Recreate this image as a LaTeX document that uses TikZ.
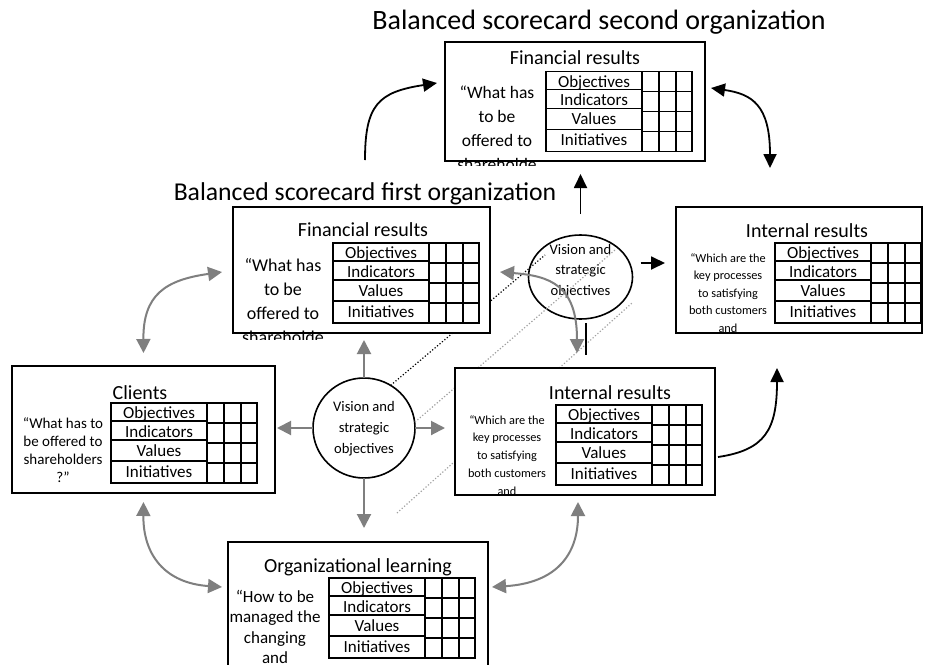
\documentclass[tikz,border=0pt]{standalone}
\usepackage{fontspec}
\setmainfont{Carlito}
\usetikzlibrary{arrows.meta,calc,shapes.geometric}
\definecolor{gar}{HTML}{7F7F7F}
\definecolor{gdot}{HTML}{A0A0A0}
\newcommand\scgrid[3]{%
 \begin{scope}[shift={(#2,#3)}]
  \draw[tbl] (0,0) rectangle (146,80);
  \draw[tbl] (96,0) -- (96,80) (113,0) -- (113,80) (130,0) -- (130,80);
  \draw[tbl] (96,20) -- (146,20) (96,40) -- (146,40) (96,60) -- (146,60);
  \draw[tbl] (0,18) -- (96,18) (0,37) -- (96,37) (0,58) -- (96,58);
  \node[lbl] (#1o) at (48,15.5) {Objectives};
  \node[lbl] (#1i) at (48,34) {Indicators};
  \node[lbl] (#1v) at (48,53) {Values};
  \node[lbl] (#1n) at (48,74) {Initiatives};
 \end{scope}}
\begin{document}
\begin{tikzpicture}[x=1pt,y=-1pt,
 box/.style={draw,line width=1.6pt,fill=white,inner sep=0,outer sep=0},
 tbl/.style={line width=1.6pt},
 lbl/.style={inner sep=0,anchor=base,font=\fontsize{17}{20}\selectfont},
 ttl/.style={inner sep=0,anchor=base,font=\fontsize{20}{24}\selectfont},
 txt/.style={inner sep=0,anchor=north,align=center},
 vis/.style={draw,line width=1.6pt,inner sep=0,outer sep=0},
 garrow/.style={draw=gar,line width=2pt,-{Triangle[length=14pt,width=14pt]}},
 gdarrow/.style={draw=gar,line width=2pt,{Triangle[length=14pt,width=14pt]}-{Triangle[length=14pt,width=14pt]}},
 barrow/.style={draw=black,line width=1.8pt,-{Triangle[length=14pt,width=13pt]}},
 bdarrow/.style={draw=black,line width=1.8pt,{Triangle[length=14pt,width=13pt]}-{Triangle[length=14pt,width=13pt]}},
 bdot/.style={draw=black,line width=1.2pt,dotted},
 gdotl/.style={draw=gdot,line width=1.2pt,dotted}
]
\useasboundingbox (0,0) rectangle (925,664);
\fill[white] (0,0) rectangle (925,664);

% titles
\node[inner sep=0,anchor=base,font=\fontsize{28}{30}\selectfont] (t2) at (599,29) {Balanced scorecard second organization};
\node[inner sep=0,anchor=base,font=\fontsize{25.7}{30}\selectfont] (t1) at (365,200) {Balanced scorecard first organization};

% vision circles
\node[vis,ellipse,minimum width=102pt,minimum height=100pt] (v1) at (364,428) {};
\node[inner sep=0,anchor=north,align=center,font=\fontsize{14.6}{21}\selectfont] (v1t) at (364,401) {Vision and\\strategic\\objectives};
\node[vis,ellipse,minimum width=104pt,minimum height=84pt] (v2) at (580.5,277) {};
\node[inner sep=0,anchor=north,align=center,font=\fontsize{14.6}{20.5}\selectfont] (v2t) at (580.5,244) {Vision and\\strategic\\objectives};

% dotted lines
\coordinate (g2s) at (397,513);
\draw[gdotl] ([yshift=6pt]v1.east) -- ([xshift=34.5pt,yshift=27pt]v2.center);
\draw[gdotl] (g2s) -- ([xshift=51.5pt,yshift=-26pt]v2.center);
\draw[bdot] (v1.58) -- ([xshift=-35.5pt,yshift=22pt]v2.center);

% second organization financial
\node[box,minimum width=260pt,minimum height=119pt] (f2) at (575,101.5) {};
\node[ttl] (f2h) at (575,64) {Financial results};
\scgrid{f2g}{546}{71.5}
\begin{scope}
\clip (445,42) rectangle (705,165.5);
\node[txt,font=\fontsize{17.5}{24}\selectfont] (f2t) at (497,85.5) {“What has\\to be\\offered to\\shareholde};
\end{scope}

% first organization financial
\node[box,minimum width=257pt,minimum height=126pt] (f1) at (361.5,270) {};
\node[ttl] (f1h) at (363,236) {Financial results};
\scgrid{f1g}{333}{243}
\begin{scope}
\clip (233,207) rectangle (490,339);
\node[txt,font=\fontsize{18}{24}\selectfont] (f1t) at (283,258.5) {“What has\\to be\\offered to\\shareholde};
\end{scope}

% internal results second
\node[box,minimum width=246pt,minimum height=126pt] (ir2) at (799,270) {};
\node[ttl] (ir2h) at (807,237) {Internal results};
\scgrid{ir2g}{775}{243}
\begin{scope}
\clip (676,207) rectangle (922,336);
\node[txt,font=\fontsize{12.3}{17.5}\selectfont] (ir2t) at (728,253) {“Which are the\\key processes\\to satisfying\\both customers\\and};
\end{scope}

% clients
\node[box,minimum width=263pt,minimum height=127pt] (cl) at (143.5,429.5) {};
\node[ttl] (clh) at (140,399) {Clients};
\scgrid{clg}{111}{403}
\node[txt,font=\fontsize{15}{18.3}\selectfont] (clt) at (63,417) {“What has to\\be offered to\\shareholders\\?”};

% internal results first
\node[box,minimum width=260pt,minimum height=127pt] (ir1) at (585,431.5) {};
\node[ttl] (ir1h) at (610,399) {Internal results};
\scgrid{ir1g}{556}{405}
\begin{scope}
\clip (455,368) rectangle (715,498);
\node[txt,font=\fontsize{12.3}{17.8}\selectfont] (ir1t) at (507,415) {“Which are the\\key processes\\to satisfying\\both customers\\and};
\end{scope}

% organizational learning
\node[box,minimum width=260pt,minimum height=138pt] (ol) at (358,611) {};
\node[ttl] (olh) at (358,572) {Organizational learning};
\scgrid{olg}{329}{578}
\node[txt,font=\fontsize{17}{20.5}\selectfont] (olt) at (275,590) {“How to be\\managed the\\changing\\and};

% gray arrows from central vision
\draw[garrow,shorten >=7pt] (v1.north) -- (v1.north |- f1.south);
\draw[garrow,shorten >=2pt] (v1.west) -- (v1.west -| cl.east);
\draw[garrow,shorten >=10pt] (v1.east) -- (v1.east -| ir1.west);
\draw[garrow,shorten >=14pt] (v1.south) -- (v1.south |- ol.north);

% gray curved double arrows
\draw[gdarrow] ([xshift=-11pt,yshift=-2pt]f1.west) .. controls (165,280) and (143,295) .. ([yshift=13pt]cl.north);
\draw[gdarrow] ([yshift=-9pt]cl.south) .. controls (143,555) and (165,583) .. ([xshift=-6pt,yshift=24pt]ol.west);
\draw[gdarrow] ([xshift=-7pt,yshift=-7pt]ir1.south) .. controls (578,555) and (556,583) .. ([xshift=4pt,yshift=24pt]ol.east);
\draw[gdarrow] ([xshift=10pt,yshift=-2pt]f1.east) .. controls (550,276) and (577,285) .. ([xshift=-8pt,yshift=15pt]ir1.north);

% black arrows
\coordinate (v2top) at ([yshift=21pt]v2.north);
\draw[barrow,shorten >=13pt] (v2top) -- (v2top |- f2.south);
\coordinate (v2r) at ([xshift=8pt,yshift=14pt]v2.east);
\draw[barrow,shorten >=11pt] (v2r) -- (v2r -| ir2.west);
\coordinate (m1) at (586,323);
\coordinate (m2) at (586,355);
\draw[line width=1.6pt] (m1) -- (m2);
\coordinate (s1) at (365,160);
\draw[barrow] (s1) .. controls (365,105) and (378,92) .. ([xshift=-8pt,yshift=18.5pt]f2.west);
\draw[bdarrow] ([xshift=6pt,yshift=13.5pt]f2.east) .. controls (752,94) and (770,105) .. ([xshift=-29pt,yshift=39pt]ir2.north);
\draw[barrow] ([xshift=3pt,yshift=-25.5pt]ir1.east) .. controls (765,450) and (777,430) .. ([xshift=-22pt,yshift=-35pt]ir2.south);
\end{tikzpicture}
\end{document}
